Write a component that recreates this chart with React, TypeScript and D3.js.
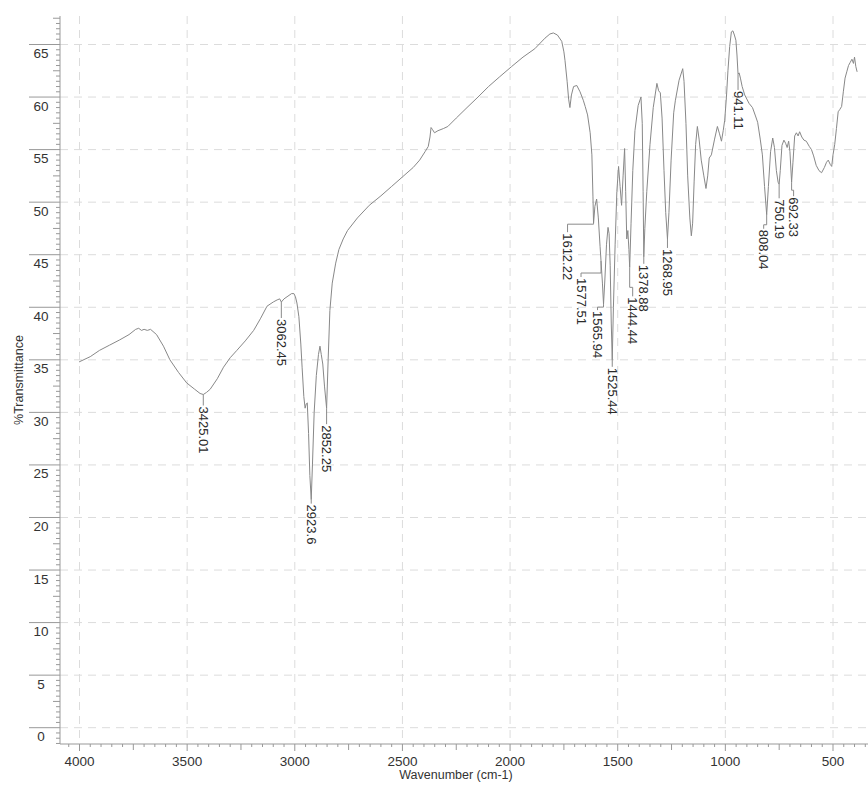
import * as d3 from 'd3'

// IR spectrum
const wavenumbers = [
  4002, 3950, 3907, 3860, 3813, 3770, 3739, 3725, 3712, 3700, 3685, 3670, 3642, 3610, 3580, 3540, 3502, 3465, 3440, 3425.01,
  3410, 3393, 3360, 3331, 3300, 3269, 3230, 3191, 3160, 3129, 3100, 3082, 3070, 3062.45, 3050, 3036, 3015, 3004, 2997, 2990,
  2981, 2972, 2966, 2958, 2952, 2947, 2942, 2936, 2930, 2923.6, 2918, 2910, 2900, 2890, 2883, 2877, 2870, 2862, 2852.25, 2845,
  2837, 2826, 2810, 2795, 2775, 2755, 2709, 2654, 2600, 2550, 2500, 2450, 2420, 2395, 2380, 2372, 2367, 2360, 2351, 2335,
  2310, 2289, 2250, 2200, 2149, 2100, 2050, 1993, 1940, 1885, 1838, 1815, 1799, 1780, 1760, 1750, 1745, 1735, 1728, 1722,
  1715, 1705, 1690, 1675, 1660, 1651, 1640, 1628, 1620, 1615, 1612.22, 1606, 1598, 1590, 1582, 1577.51, 1571, 1565.94, 1560, 1552,
  1545, 1540, 1535, 1530, 1525.44, 1520, 1512, 1504, 1496, 1489, 1482, 1475, 1468, 1463, 1458, 1453, 1448, 1444.44, 1438, 1430,
  1420, 1405, 1392, 1386, 1382, 1378.88, 1374, 1365, 1350, 1335, 1318, 1310, 1302, 1294, 1285, 1277, 1268.95, 1262, 1252, 1240,
  1232, 1215, 1198, 1192, 1183, 1175, 1165, 1158, 1152, 1145, 1138, 1130, 1122, 1112, 1100, 1090, 1082, 1075, 1065, 1050,
  1037, 1027, 1018, 1010, 1003, 995, 988, 980, 972, 965, 958, 951, 946, 941.11, 936, 930, 922, 910, 890, 874,
  860, 850, 838, 828, 818, 808.04, 800, 790, 780, 772, 763, 755, 750.19, 745, 737, 728, 720, 713, 706, 700,
  692.33, 686, 678, 670, 662, 655, 645, 635, 624, 610, 600, 590, 578, 565, 553, 540, 530, 522, 513, 506,
  500, 492, 484, 476, 469, 460, 452, 444, 436, 428, 420, 412, 405, 400, 394, 388,
]

const transmittance = [
  34.8, 35.3, 35.9, 36.4, 36.9, 37.4, 37.9, 38.0, 37.8, 37.9, 37.8, 37.9, 37.4, 36.3, 35.0, 33.8, 32.8, 32.2, 31.8, 31.7,
  31.9, 32.2, 33.2, 34.3, 35.2, 35.9, 36.8, 37.8, 38.9, 40.1, 40.5, 40.7, 40.8, 40.5, 40.8, 41.0, 41.3, 41.3, 41.0, 40.4,
  39.1, 36.5, 34.3, 31.5, 30.4, 30.8, 30.9, 28.0, 24.0, 21.7, 25.0, 30.0, 33.5, 35.5, 36.3, 35.5, 34.6, 32.5, 30.4, 35.0,
  39.7, 42.3, 44.2, 45.5, 46.5, 47.3, 48.5, 49.7, 50.6, 51.5, 52.4, 53.3, 54.0, 54.8, 55.3, 56.2, 57.1, 56.9, 56.6, 56.8,
  57.0, 57.2, 58.0, 59.0, 60.0, 61.0, 61.9, 62.9, 63.8, 64.6, 65.6, 66.0, 66.1, 65.9, 65.3, 64.3, 63.5, 61.5, 59.8, 59.0,
  60.2, 61.0, 61.1, 60.5, 59.7, 59.1, 58.3, 56.6, 54.5, 50.5, 48.0, 49.6, 50.3, 48.5, 45.8, 44.4, 42.3, 40.3, 42.5, 46.0,
  47.6, 47.0, 44.0, 38.5, 35.0, 40.0, 46.0, 51.0, 53.4, 51.5, 49.7, 52.5, 55.1, 51.0, 46.5, 47.3, 45.5, 43.8, 48.0, 53.0,
  56.8, 59.2, 60.0, 57.5, 51.0, 44.8, 47.5, 51.0, 55.5, 59.0, 61.3, 60.6, 60.4, 58.0, 53.0, 49.0, 46.5, 49.0, 54.0, 58.5,
  59.7, 61.6, 62.7, 61.5, 57.5, 52.5, 48.5, 46.8, 48.0, 52.0, 55.5, 57.2, 56.0, 54.0, 52.5, 51.3, 52.5, 54.2, 54.5, 56.0,
  57.2, 56.5, 55.8, 56.8, 57.8, 60.0, 62.5, 64.8, 66.2, 66.3, 65.9, 65.4, 64.0, 62.2, 62.3, 61.8, 61.0, 60.2, 59.4, 59.0,
  58.2, 57.6, 56.0, 54.5, 51.5, 48.8, 51.5, 54.8, 56.1, 55.2, 53.0, 51.9, 51.7, 53.0, 55.4, 55.9, 55.6, 55.2, 55.8, 54.8,
  51.9, 53.8, 56.3, 56.6, 56.3, 56.7, 56.2, 55.9, 55.8, 55.3, 55.0, 54.4, 53.5, 53.0, 52.8, 53.3, 53.8, 54.0, 53.6, 53.4,
  54.5, 55.5, 57.0, 58.6, 58.8, 59.1, 60.5, 61.8, 62.4, 63.0, 63.3, 63.6, 63.2, 63.8, 62.9, 62.4,
]

// peak picks
const peakWavenumbers = [3425.01, 3062.45, 2923.6, 2852.25, 1612.22, 1577.51, 1565.94, 1525.44, 1444.44, 1378.88, 1268.95, 941.11, 808.04, 750.19, 692.33]
const peakLabels = ['3425.01', '3062.45', '2923.6', '2852.25', '1612.22', '1577.51', '1565.94', '1525.44', '1444.44', '1378.88', '1268.95', '941.11', '808.04', '750.19', '692.33']

// label layout: [text column offset, elbow drop, gap to text top] in px
const labelLayout: [number, number, number][] = [
  [0, 0, 12], [0, 0, 17], [0, 0, 5], [0, 0, 17],
  [-26, 1, 10], [-20, 12, 17], [-6, 3, 7], [0, 0, 8],
  [3, 20, 30], [0, 0, 8], [0, 0, 10],
  [0, 0, 17], [-3, 10, 15], [0, 0, 15], [2, 8, 15],
]

const xTickLabels = [4000, 3500, 3000, 2500, 2000, 1500, 1000, 500]
const yTickLabels = [0, 5, 10, 15, 20, 25, 30, 35, 40, 45, 50, 55, 60, 65]

const W = 868
const H = 786
const AX_LEFT = 60
const AX_TOP = 16
const AX_BOTTOM = 744
const FONT = '"Liberation Sans", Arial, Helvetica, sans-serif'

export default function App() {
  const x = d3.scaleLinear().domain([4000, 500]).range([79.5, 833])
  const y = d3.scaleLinear().domain([0, 65]).range([727.7, 44.5])

  const pts = wavenumbers.map((w, i) => [w, transmittance[i]] as [number, number])
  const line = d3
    .line<[number, number]>()
    .x((d) => x(d[0]))
    .y((d) => y(d[1]))
  const path = line(pts) ?? ''

  // transmittance at a peak wavenumber (linear between read points)
  const interpT = (w: number) => {
    const i = wavenumbers.findIndex((v) => v <= w)
    if (i <= 0) return transmittance[Math.max(i, 0)]
    const w0 = wavenumbers[i - 1]
    const w1 = wavenumbers[i]
    const t = (w0 - w) / (w0 - w1)
    return transmittance[i - 1] + t * (transmittance[i] - transmittance[i - 1])
  }

  const yMin = y.invert(AX_BOTTOM)
  const yMax = y.invert(AX_TOP)
  const yTicks = d3.range(Math.ceil(yMin * 2) / 2, yMax, 0.5)
  const xMaxW = x.invert(AX_LEFT)
  const xMinW = x.invert(W)
  const xTicks = d3.range(Math.floor(xMaxW / 50) * 50, xMinW, -50)

  return (
    <svg
      width={W}
      height={H}
      style={{ position: 'absolute', left: 0, top: 0, background: '#fff' }}
      fontFamily={FONT}
    >
      {/* grid */}
      {yTickLabels.map((v) => (
        <line key={'gy' + v} x1={AX_LEFT} x2={W} y1={y(v)} y2={y(v)} stroke="#dcdcdc" strokeWidth={1} strokeDasharray="8,6" />
      ))}
      {xTickLabels.map((v) => (
        <line key={'gx' + v} x1={x(v)} x2={x(v)} y1={AX_TOP} y2={AX_BOTTOM} stroke="#dcdcdc" strokeWidth={1} strokeDasharray="8,6" />
      ))}

      {/* y axis */}
      <line x1={AX_LEFT} x2={AX_LEFT} y1={AX_TOP} y2={AX_BOTTOM} stroke="#999" />
      {yTicks.map((v) => {
        const major = Math.abs(v % 5) < 1e-6
        const mid = Math.abs(v % 2.5) < 1e-6
        const len = major ? 31 : mid ? 7 : 4
        return <line key={'ty' + v} x1={AX_LEFT - len} x2={AX_LEFT} y1={y(v)} y2={y(v)} stroke="#999" />
      })}
      {yTickLabels.map((v) => (
        <text key={'ly' + v} x={41} y={y(v) + 9} textAnchor="middle" dominantBaseline="central" fontSize={13.5} fill="#333">
          {v}
        </text>
      ))}
      <text
        transform={`translate(19,${380}) rotate(-90)`}
        textAnchor="middle"
        dominantBaseline="central"
        fontSize={12.5}
        fill="#333"
      >
        %Transmittance
      </text>

      {/* x axis */}
      <line x1={AX_LEFT} x2={W} y1={AX_BOTTOM} y2={AX_BOTTOM} stroke="#999" />
      {xTicks.map((v) => {
        const major = v % 500 === 0
        const mid = v % 250 === 0
        const len = major ? 7 : mid ? 6 : 3
        return <line key={'tx' + v} x1={x(v)} x2={x(v)} y1={AX_BOTTOM} y2={AX_BOTTOM + len} stroke="#999" />
      })}
      {xTickLabels.map((v) => (
        <text key={'lx' + v} x={x(v)} y={761} textAnchor="middle" dominantBaseline="central" fontSize={13.5} fill="#333">
          {v}
        </text>
      ))}
      <text x={456} y={775} textAnchor="middle" dominantBaseline="central" fontSize={12.5} fill="#333">
        Wavenumber (cm-1)
      </text>

      {/* spectrum */}
      <path d={path} fill="none" stroke="#888" strokeWidth={1} strokeLinejoin="round" />

      {/* peak labels */}
      {peakWavenumbers.map((w, i) => {
        const px = x(w)
        const py = y(interpT(w))
        const [dx, elbow, gap] = labelLayout[i]
        const tx = px + dx
        const top = py + gap
        const d = dx === 0 ? `M${px},${py}V${top - 1}` : `M${px},${py}V${py + elbow}H${tx}V${top - 1}`
        return (
          <g key={'pk' + i}>
            <path d={d} fill="none" stroke="#8a8a8a" strokeWidth={1} />
            <text
              transform={`translate(${tx},${top}) rotate(90)`}
              dominantBaseline="central"
              fontSize={13}
              fill="#2a2a2a"
            >
              {peakLabels[i]}
            </text>
          </g>
        )
      })}
    </svg>
  )
}
